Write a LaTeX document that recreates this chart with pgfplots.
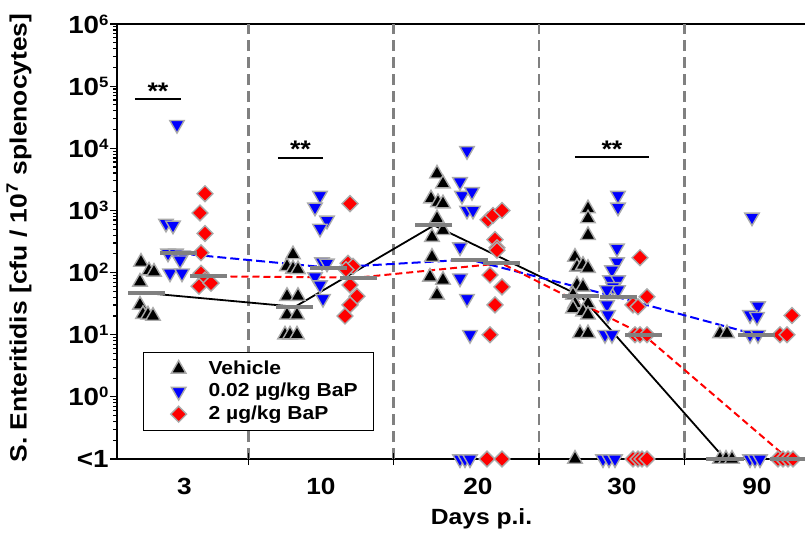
\documentclass[border=0pt]{standalone}
\usepackage{fontspec}
\setmainfont{Liberation Sans}[FakeStretch=1.12]
\usepackage{pgfplots}
\pgfplotsset{compat=1.18}
\definecolor{medgray}{RGB}{128,128,128}
\definecolor{outl}{RGB}{170,170,170}
\newcommand\ex[1]{\raisebox{4pt}{\fontsize{7.5}{8}\selectfont #1}}
\begin{document}
\begin{tikzpicture}[font=\bfseries]
\begin{axis}[
  scale only axis, width=343.75pt, height=217.5pt,
  xmin=117.5, xmax=805, ymin=-1, ymax=6,
  clip=false,
  axis x line*=box, axis y line*=left,
  axis line style={line width=1pt},
  tick align=outside,
  major tick length=3.5pt, minor tick length=2pt,
  xtick={184.5,321,478,622,757},
  xticklabels={3,10,20,30,90},
  xtick style={draw=none},
  xticklabel style={font=\bfseries\fontsize{11.7}{14}\selectfont, anchor=north, inner sep=0pt, yshift=-6pt},
  ytick={-1,0,1,2,3,4,5,6},
  yticklabels={<1,10\ex{0},10\ex{1},10\ex{2},10\ex{3},10\ex{4},10\ex{5},10\ex{6}},
  minor ytick={-0.699,-0.523,-0.398,-0.301,-0.222,-0.155,-0.097,-0.046,
    0.301,0.477,0.602,0.699,0.778,0.845,0.903,0.954,
    1.301,1.477,1.602,1.699,1.778,1.845,1.903,1.954,
    2.301,2.477,2.602,2.699,2.778,2.845,2.903,2.954,
    3.301,3.477,3.602,3.699,3.778,3.845,3.903,3.954,
    4.301,4.477,4.602,4.699,4.778,4.845,4.903,4.954,
    5.301,5.477,5.602,5.699,5.778,5.845,5.903,5.954},
  ytick style={black, line width=0.6pt},
  every minor tick/.append style={black, line width=0.5pt},
  yticklabel style={font=\bfseries\fontsize{12.4}{14}\selectfont, inner sep=0.8pt},
  ylabel={S. Enteritidis [cfu / 10\textsuperscript{7} splenocytes]},
  ylabel style={at={(axis description cs:-0.1433,0.508)}, anchor=center, font=\bfseries\fontsize{11.8}{14}\selectfont},
  xlabel={Days p.i.},
  xlabel style={at={(axis description cs:0.5295,-0.1517)}, anchor=base, font=\bfseries\fontsize{11}{13}\selectfont},
  legend style={at={(axis description cs:0.0371,0.246)}, anchor=north west, draw=black, line width=0.6pt, fill=white,
    font=\bfseries\fontsize{9.4}{11.5}\selectfont, inner xsep=6pt, inner ysep=2pt, row sep=-1pt,
    /tikz/every odd column/.append style={column sep=9pt}},
  legend image code/.code={\path[draw=none] (-3pt,0pt) -- (0pt,0pt);
    \draw[mark repeat=2,mark phase=2,#1,only marks] plot coordinates {(0cm,0cm) (0.3cm,0cm) (0.6cm,0cm)};},
  legend cell align=left,
]
% separators
\draw[medgray, line width=1.1pt, dash pattern=on 5.5pt off 3pt] (axis cs:248.5,-1) -- (axis cs:248.5,6);
\draw[medgray, line width=1.1pt, dash pattern=on 5.5pt off 3pt] (axis cs:393.5,-1) -- (axis cs:393.5,6);
\draw[medgray, line width=1.1pt, dash pattern=on 5.5pt off 3pt] (axis cs:539,-1) -- (axis cs:539,6);
\draw[medgray, line width=1.1pt, dash pattern=on 5.5pt off 3pt] (axis cs:684.5,-1) -- (axis cs:684.5,6);
\draw[black, line width=0.6pt] ([yshift=-3pt]axis cs:248.5,-1) -- ([yshift=3pt]axis cs:248.5,-1);
\draw[black, line width=0.6pt] ([yshift=-3pt]axis cs:393.5,-1) -- ([yshift=3pt]axis cs:393.5,-1);
\draw[black, line width=0.6pt] ([yshift=-3pt]axis cs:539,-1) -- ([yshift=3pt]axis cs:539,-1);
\draw[black, line width=0.6pt] ([yshift=-3pt]axis cs:684.5,-1) -- ([yshift=3pt]axis cs:684.5,-1);

% Vehicle
\addplot[only marks, mark=triangle*, mark size=4.2pt, mark options={fill=black, draw=outl, line width=0.7pt}] coordinates {
 (141,2.17) (149,2.03) (154,2.01) (140,1.85) (140,1.48) (143,1.33) (148,1.32) (153,1.30)
 (293,2.29) (287,2.10) (293,2.06) (298,2.05) (287,1.62) (298,1.62) (287,1.32) (297,1.32) (285,1.00) (290,1.00) (297,1.00)
 (437,3.59) (443,3.43) (431,3.19) (438,3.13) (443,3.11) (437,2.87) (443,2.68) (432,2.57) (432,2.25) (430,1.93) (443,1.88) (437,1.64)
 (588,3.03) (588,2.87) (588,2.60) (575,2.25) (577,2.09) (583,2.12) (588,2.07) (577,1.80) (583,1.77) (573,1.64) (575,1.50) (588,1.50) (573,1.42) (583,1.37) (588,1.32) (580,1.02) (588,1.02) (575,-1)
 (720,1.02) (727,1.02) (720,-1) (726,-1) (732,-1)
};
\addlegendentry{Vehicle}
% 0.02 ug/kg
\addplot[only marks, mark=triangle*, mark size=4.2pt, mark options={rotate=180, fill=blue, draw=outl, line width=0.7pt}] coordinates {
 (177,4.38) (166,2.79) (173,2.76) (168,2.31) (176,2.31) (183,2.28) (180,2.20) (170,1.99) (182,1.99)
 (320,3.24) (315,3.05) (327,2.84) (320,2.71) (322,2.17) (327,2.15) (315,1.93) (320,1.80) (323,1.58)
 (467,3.96) (460,3.46) (462,3.24) (472,3.30) (467,3.00) (473,3.00) (460,2.41) (460,1.91) (467,1.58) (470,1.00) (460,-1) (465,-1) (470,-1)
 (618,3.24) (618,3.05) (617,2.39) (617,2.17) (612,2.04) (610,1.88) (618,1.88) (613,1.77) (618,1.72) (607,1.72) (607,1.48) (608,1.32) (605,1.00) (612,1.00) (603,-1) (609,-1) (615,-1)
 (752,2.89) (758,1.46) (750,1.32) (757,1.29) (750,1.00) (758,1.00) (750,-1) (755,-1) (760,-1)
};
\addlegendentry{0.02 µg/kg BaP}
% 2 ug/kg
\addplot[only marks, mark=square*, mark size=2.8pt, mark options={rotate=45, fill=red, draw=outl, line width=0.7pt}] coordinates {
 (205,3.27) (200,2.96) (205,2.63) (201,2.32) (201,1.99) (205,1.88) (199,1.78) (211,1.83)
 (350,3.11) (348,2.15) (353,2.10) (346,2.05) (350,1.80) (357,1.62) (350,1.48) (345,1.30)
 (488,2.85) (493,2.92) (502,3.00) (495,2.53) (497,2.40) (497,2.36) (490,1.96) (502,1.77) (495,1.48) (490,1.00) (487,-1) (502,-1)
 (640,2.24) (647,1.61) (633,1.48) (638,1.45) (635,1.00) (640,1.00) (647,1.00) (633,-1) (638,-1) (642,-1) (647,-1)
 (792,1.31) (780,1.00) (787,1.00) (778,-1) (783,-1) (788,-1) (793,-1)
};
\addlegendentry{2 µg/kg BaP}

% median lines
\addplot[forget plot, no marks, black, line width=0.9pt] coordinates {(146.5,1.67) (295,1.45) (434,2.76) (581,1.62) (725,-1)};
\addplot[forget plot, no marks, blue, line width=1pt, dash pattern=on 4.5pt off 2pt] coordinates {(178.5,2.31) (328.5,2.08) (469.5,2.21) (618.5,1.60) (756.5,1.00)};
\addplot[forget plot, no marks, red, line width=1pt, dash pattern=on 3.5pt off 2pt] coordinates {(208.5,1.94) (358.5,1.92) (501.5,2.15) (643.5,1.00) (788.5,-1)};
% median bars
\addplot[forget plot, only marks, mark=-, mark size=9.25pt, mark options={medgray, line width=2pt}] coordinates {
 (146.5,1.67) (295,1.45) (434,2.76) (581,1.62) (725,-1)
 (178.5,2.31) (328.5,2.08) (469.5,2.21) (618.5,1.60) (756.5,1.00)
 (208.5,1.94) (358.5,1.92) (501.5,2.15) (643.5,1.00) (788.5,-1)};

% significance
\draw[line width=1pt] (axis cs:135,4.793) -- (axis cs:181,4.793);
\node[anchor=base, font=\bfseries\fontsize{12}{13}\selectfont] at (axis cs:158,4.793) {**};
\draw[line width=1pt] (axis cs:278,3.844) -- (axis cs:323,3.844);
\node[anchor=base, font=\bfseries\fontsize{12}{13}\selectfont] at (axis cs:300.5,3.844) {**};
\draw[line width=1pt] (axis cs:575,3.860) -- (axis cs:649,3.860);
\node[anchor=base, font=\bfseries\fontsize{12}{13}\selectfont] at (axis cs:612,3.860) {**};

\coordinate (O) at (rel axis cs:0,0);
\end{axis}
\pgfresetboundingbox
\path (O) ++(-58.75pt,-36.5pt) rectangle ++(402.5pt,266pt);
\end{tikzpicture}
\end{document}
